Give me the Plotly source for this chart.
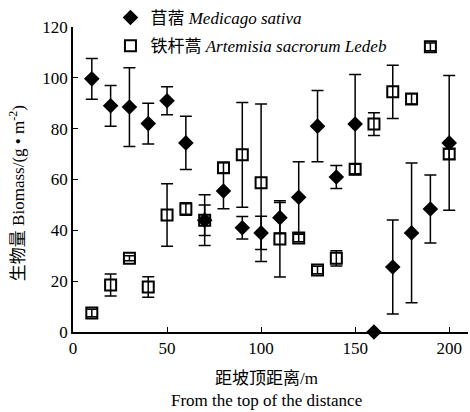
import plotly.graph_objects as go

distance = [10, 20, 30, 40, 50, 60, 70, 80, 90, 100, 110, 120, 130, 140, 150, 160, 170, 180, 190, 200]

medicago = [99.6, 89, 88.5, 82, 91, 74.4, 44, 55.5, 41, 39, 45, 53, 81, 61, 81.8, 0, 25.6, 39, 48.4, 74.4]
medicago_err = [8, 8, 15.5, 8, 5.5, 10.5, 10, 7, 4.4, 6.5, 6, 14, 14, 4.5, 19.5, 0, 18.5, 27.5, 13.4, 26.5]

artemisia = [7.5, 18.5, 29, 17.7, 46, 48.4, 44, 64.6, 69.7, 58.7, 36.6, 37, 24.4, 29, 64, 81.8, 94.5, 91.7, 112.2, 70]
artemisia_err = [1.5, 4.3, 1, 4, 12.3, 2.5, 6, 2, 20.6, 31, 15, 1.5, 1.5, 3, 2, 4.5, 10.5, 2, 1.5, 2]

x_ticks = [0, 50, 100, 150, 200]
y_ticks = [0, 20, 40, 60, 80, 100, 120]

y_title = "生物量 Biomass/(g • m<sup>-2</sup>)"
x_title_cn = "距坡顶距离/m"
x_title_en = "From the top of the distance"

FONT = "Liberation Serif, Times New Roman, Noto Sans CJK SC, serif"

fig = go.Figure()

fig.add_trace(go.Scatter(
    x=distance, y=medicago, mode="markers",
    name="苜蓿 <i>Medicago sativa</i>",
    legendgroup="a",
    marker=dict(symbol="diamond", size=12, color="black"),
    cliponaxis=False,
))
fig.add_trace(go.Scatter(
    x=distance, y=artemisia, mode="markers",
    name="铁杆蒿 <i>Artemisia sacrorum Ledeb</i>",
    legendgroup="b",
    marker=dict(symbol="square-open", size=11, color="black", line=dict(width=2)),
    cliponaxis=False,
))
# error bars drawn on top of markers
fig.add_trace(go.Scatter(
    x=distance, y=medicago, mode="markers", showlegend=False,
    marker=dict(size=1, color="rgba(0,0,0,0)"),
    error_y=dict(type="data", array=medicago_err, color="black", thickness=1.5, width=6),
    cliponaxis=False, hoverinfo="skip",
))
fig.add_trace(go.Scatter(
    x=distance, y=artemisia, mode="markers", showlegend=False,
    marker=dict(size=1, color="rgba(0,0,0,0)"),
    error_y=dict(type="data", array=artemisia_err, color="black", thickness=1.5, width=6),
    cliponaxis=False, hoverinfo="skip",
))

fig.add_annotation(text=y_title, xref="paper", yref="paper", x=-0.142, y=0.455,
                   xanchor="center", yanchor="middle", textangle=-90, showarrow=False,
                   font=dict(size=17, color="black", family=FONT))
fig.add_annotation(text=x_title_cn, xref="paper", yref="paper", x=0.491, y=-0.151,
                   xanchor="center", yanchor="middle", showarrow=False,
                   font=dict(size=17, color="black", family=FONT))
fig.add_annotation(text=x_title_en, xref="paper", yref="paper", x=0.491, y=-0.226,
                   xanchor="center", yanchor="middle", showarrow=False,
                   font=dict(size=17, color="black", family=FONT))

fig.update_layout(
    width=470, height=412,
    margin=dict(l=73, r=2, t=27, b=80, autoexpand=False),
    paper_bgcolor="white", plot_bgcolor="white",
    font=dict(family=FONT, size=17, color="black"),
    showlegend=True,
    legend=dict(
        xref="container", yref="container",
        x=0.235, y=1.01, xanchor="left", yanchor="top",
        bgcolor="rgba(0,0,0,0)", font=dict(size=17, family=FONT, color="black"),
        tracegroupgap=3, traceorder="grouped",
        itemwidth=30,
    ),
    xaxis=dict(
        range=[0, 210], tickvals=x_ticks,
        showline=True, linecolor="black", linewidth=1.5,
        ticks="inside", ticklen=5, tickcolor="black", tickwidth=1,
        showgrid=False, zeroline=False,
        tickfont=dict(size=17, color="black"),
    ),
    yaxis=dict(
        range=[0, 120], tickvals=y_ticks,
        showline=True, linecolor="black", linewidth=1.5,
        ticks="inside", ticklen=5, tickcolor="black", tickwidth=1,
        showgrid=False, zeroline=False,
        tickfont=dict(size=17, color="black"),
    ),
)

fig.write_html("out.html", config={"displayModeBar": False},
               post_script="document.body.style.margin='0';")
